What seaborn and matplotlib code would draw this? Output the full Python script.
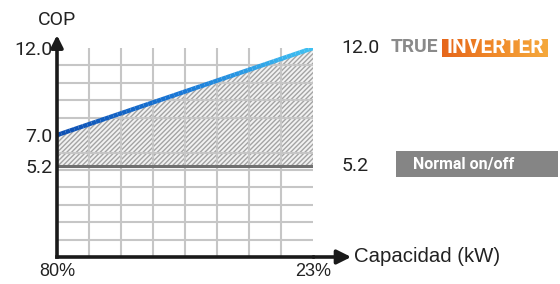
import numpy as np
import pandas as pd
import matplotlib
matplotlib.use('Agg')
import matplotlib.pyplot as plt
import seaborn as sns
from matplotlib.collections import LineCollection
from matplotlib.patches import Rectangle

# data
cap_pos = [0, 8]                 # grid columns: 80% load -> 23% load
cap_labels = ['80%', '23%']
cop_inverter = [7.0, 12.0]
cop_normal = [5.2, 5.2]
ytick_vals = [12.0, 7.0, 5.2]

sns.set_theme(style="white")
plt.rcParams['font.family'] = ['Roboto', 'DejaVu Sans']
plt.rcParams['hatch.linewidth'] = 1.0
plt.rcParams['hatch.color'] = '#a4a4a4'

W, H = 560, 284
fig = plt.figure(figsize=(5.6, 2.84), dpi=100)
ax = fig.add_axes([57 / W, 27 / H, 256 / W, 209 / H])

df = pd.DataFrame({'cap': cap_pos, 'inv': cop_inverter, 'normal': cop_normal})

# hatched gain area between on/off and inverter COP
ax.fill_between(df['cap'], df['normal'], df['inv'], facecolor='#f2f2f2',
                hatch='///////', edgecolor='#a4a4a4', linewidth=0, zorder=1)

# normal on/off line
sns.lineplot(data=df, x='cap', y='normal', ax=ax, color='#707070', lw=2.2, zorder=3)

# inverter line with blue gradient
xs = np.linspace(df['cap'].min(), df['cap'].max(), 60)
ys = np.interp(xs, df['cap'], df['inv'])
pts = np.column_stack([xs, ys]).reshape(-1, 1, 2)
segs = np.concatenate([pts[:-1], pts[1:]], axis=1)
cmap = matplotlib.colors.LinearSegmentedColormap.from_list('b', ['#0d4fb3', '#1a7ad8', '#3fc0f2'])
lc = LineCollection(segs, cmap=cmap, linewidths=3.2, zorder=4, capstyle='butt')
lc.set_array(np.linspace(0, 1, len(segs)))
ax.add_collection(lc)

ax.set_xlim(0, 8)
ax.set_ylim(0, 12)
ax.set_xticks(np.arange(0, 9, 1), minor=True)
ax.set_yticks(np.arange(0, 13, 1), minor=True)
ax.set_axisbelow(False)
ax.grid(which='major', visible=False)
ax.grid(which='minor', color='#c6c6c6', lw=1.5)
ax.tick_params(which='minor', length=0)

ax.set_xticks(cap_pos)
ax.set_xticklabels(cap_labels, family=['Liberation Sans'], fontsize=13, color='#222222')
ax.set_yticks(ytick_vals)
ax.set_yticklabels([f'{v:.1f}' for v in ytick_vals], fontsize=14, color='#222222')
ax.tick_params(which='major', direction='in', length=4, width=2.2, color='#1a1a1a', pad=3)
ax.tick_params(axis='x', which='major', pad=4)
ax.set_xlabel('')
ax.set_ylabel('')

for s in ['top', 'right']:
    ax.spines[s].set_visible(False)
for s in ['left', 'bottom']:
    ax.spines[s].set_linewidth(2.6)
    ax.spines[s].set_color('#1a1a1a')
    ax.spines[s].set_zorder(5)

# axis arrows
ax.annotate('', xy=(1.16, 0), xytext=(0.99, 0), xycoords='axes fraction',
            arrowprops=dict(arrowstyle='-|>,head_length=0.7,head_width=0.35', color='#1a1a1a', lw=2.6),
            annotation_clip=False)
ax.annotate('', xy=(0, 1.075), xytext=(0, 0.98), xycoords='axes fraction',
            arrowprops=dict(arrowstyle='-|>,head_length=0.6,head_width=0.3', color='#1a1a1a', lw=2.6),
            annotation_clip=False)

fig.text(57 / W, 1 - 20 / H, 'COP', ha='center', va='center', fontsize=14, color='#222222')
fig.text(354 / W, 1 - 257 / H, 'Capacidad (kW)', ha='left', va='center',
         family=['Liberation Sans'], fontsize=14.7, color='#222222')

# right-hand value labels
ax.text(1.112, cop_inverter[-1], f'{cop_inverter[-1]:.1f}', transform=ax.get_yaxis_transform(),
        ha='left', va='center', fontsize=14, color='#222222')
ax.text(1.112, cop_normal[-1], f'{cop_normal[-1]:.1f}', transform=ax.get_yaxis_transform(),
        ha='left', va='center', fontsize=14, color='#222222')

# TRUE INVERTER badge
fig.text(391 / W, 1 - 47 / H, 'TRUE', ha='left', va='center', fontsize=13.8,
         fontweight='bold', color='#8a8a8a')
bax = fig.add_axes([442 / W, 1 - 57 / H, 106 / W, 18 / H])
bax.imshow(np.linspace(0, 1, 50)[None, :], aspect='auto',
           cmap=matplotlib.colors.LinearSegmentedColormap.from_list('o', ['#e6661a', '#f08a2a', '#f5a83c']))
bax.set_axis_off()
fig.text(495 / W, 1 - 47.5 / H, 'INVERTER', ha='center', va='center', fontsize=15,
         fontweight='bold', color='white')

# Normal on/off badge
fig.patches.append(Rectangle((396 / W, 1 - 177 / H), 162 / W, 26 / H,
                             transform=fig.transFigure, facecolor='#858585', edgecolor='none'))
fig.text(464 / W, 1 - 164 / H, 'Normal on/off', ha='center', va='center', fontsize=11.5,
         fontweight='bold', color='white')

fig.savefig('out.png', dpi=100, facecolor='white')
